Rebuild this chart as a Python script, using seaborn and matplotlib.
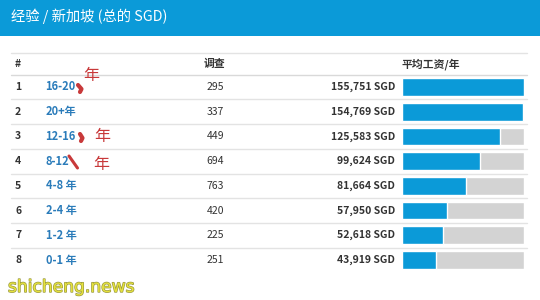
import matplotlib
matplotlib.use("Agg")
import matplotlib.pyplot as plt
import matplotlib.patheffects as pe
import seaborn as sns
import pandas as pd

# ---- data ----
title = "经验 / 新加坡 (总的 SGD)"
col_headers = ["#", "调查", "平均工资/年"]
ranks = [1, 2, 3, 4, 5, 6, 7, 8]
experience = ["16-20", "20+年", "12-16", "8-12", "4-8 年", "2-4 年", "1-2 年", "0-1 年"]
surveys = [295, 337, 449, 694, 763, 420, 225, 251]
salaries = [155751, 154769, 125583, 99624, 81664, 57950, 52618, 43919]
handwritten_fix = [True, False, True, True, False, False, False, False]
watermark = "shicheng.news"

sns.set_style("white")
plt.rcParams["font.family"] = ["Noto Sans CJK SC", "DejaVu Sans"]

W, H = 540, 300
fig = plt.figure(figsize=(W / 100, H / 100), dpi=100)
fig.patch.set_facecolor("white")

# overlay axes in pixel coordinates for the table frame and texts
ax0 = fig.add_axes([0, 0, 1, 1])
ax0.set_xlim(0, W)
ax0.set_ylim(H, 0)
ax0.axis("off")

BLUE = "#0b9ad8"
GRAY = "#d3d3d3"
LINK = "#2b7cba"
DARK = "#333333"
LINE = "#e3e3e3"

# header band
ax0.add_patch(plt.Rectangle((0, 0), W, 36, color=BLUE, lw=0, zorder=0))
ax0.text(11, 16.5, title, color="white", fontsize=10.3, va="center", ha="left")

# table lines
row0 = 87.0
step = 24.72
ax0.plot([11, 527], [52.5, 52.5], color=LINE, lw=1)
ax0.plot([11, 527], [75, 75], color="#d9d9d9", lw=1)
for i in range(len(ranks) - 1):
    yl = row0 + step * (i + 0.5)
    ax0.plot([11, 527], [yl, yl], color=LINE, lw=1)

# column headers
ax0.text(15, 64, col_headers[0], fontsize=7.5, weight="bold", color=DARK, va="center")
ax0.text(214.5, 64, col_headers[1], fontsize=7.8, weight="bold", color=DARK, va="center", ha="center")
ax0.text(402, 64, col_headers[2], fontsize=7.8, weight="bold", color=DARK, va="center", ha="left")

# rows
for i, (r, e, s, v, fix) in enumerate(zip(ranks, experience, surveys, salaries, handwritten_fix)):
    y = row0 + step * i
    ax0.text(15, y, str(r), fontsize=7.5, weight="bold", color=DARK, va="center")
    ax0.text(45.5, y, e, fontsize=8, weight="bold", color=LINK, va="center")
    ax0.text(215.5, y, str(s), fontsize=7.5, color=DARK, va="center", ha="center")
    ax0.text(395, y, f"{v:,} SGD", fontsize=7.5, weight="bold", color=DARK, va="center", ha="right")

# handwritten red corrections
RED = "#c8393a"
ax0.plot([78, 81.5, 80], [85, 89, 92], color=RED, lw=3, solid_capstyle="round")
ax0.text(83, 75.5, "年", fontsize=11.5, color=RED, va="center")
ax0.plot([80, 82.5, 81], [134, 138, 141], color=RED, lw=3, solid_capstyle="round")
ax0.text(94, 137, "年", fontsize=11.5, color=RED, va="center")
ax0.plot([69, 77.5], [156, 168], color=RED, lw=2.2, solid_capstyle="round")
ax0.text(93, 164, "年", fontsize=11.5, color=RED, va="center")

# watermark
ax0.text(8, 287, watermark, fontsize=12.3, color="#e6e23e", va="center", ha="left",
         family="DejaVu Sans",
         path_effects=[pe.withStroke(linewidth=1.0, foreground="#9a9a40")])

# bar column through seaborn
df = pd.DataFrame({"exp": [str(r) for r in ranks], "salary": salaries,
                   "full": [max(salaries)] * len(salaries)})
top_px = row0 - step / 2
bot_px = row0 + step * (len(ranks) - 0.5)
axb = fig.add_axes([402 / W, 1 - bot_px / H, 122 / W, (bot_px - top_px) / H])
sns.barplot(data=df, x="full", y="exp", orient="h", color=GRAY, width=0.72,
            saturation=1, ax=axb)
sns.barplot(data=df, x="salary", y="exp", orient="h", color=BLUE, width=0.72,
            saturation=1, ax=axb)
axb.set_xlim(0, max(salaries))
axb.set_ylim(len(ranks) - 0.5, -0.5)
axb.axis("off")
axb.patch.set_alpha(0)

fig.savefig("out.png", dpi=100)
